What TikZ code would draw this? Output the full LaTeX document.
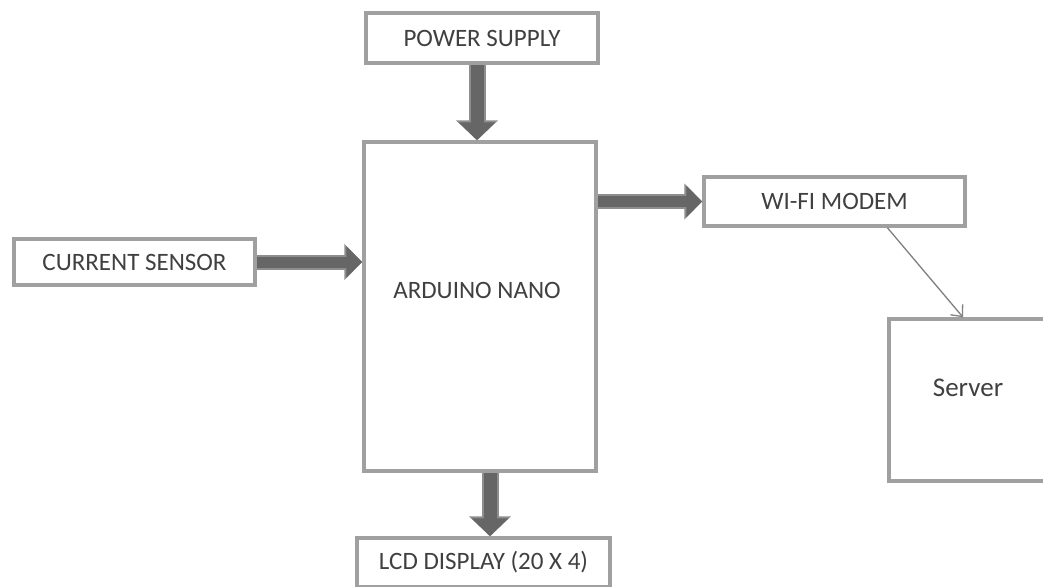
\documentclass[tikz,border=0pt]{standalone}
\usepackage{fontspec}
\setmainfont{Carlito}
\usetikzlibrary{arrows.meta,calc}
\definecolor{boxgray}{HTML}{A0A0A0}
\definecolor{txtgray}{HTML}{404040}
\definecolor{arrdark}{HTML}{666666}
\definecolor{arrlight}{HTML}{8E8E8E}
\definecolor{thingray}{HTML}{808080}
\begin{document}
\begin{tikzpicture}[x=1pt,y=-1pt,
  box/.style={draw=boxgray, line width=3.5pt, fill=white, inner sep=0pt,
    text=txtgray, font=\fontsize{25}{30}\selectfont},
  lbl/.style={text=txtgray, font=\fontsize{25}{30}\selectfont, inner sep=0pt},
  blockv/.style={draw=arrdark, line width=13pt, -{Triangle[length=18pt,width=36pt]},
    preaction={draw=arrlight, line width=17pt, -{Triangle[length=20pt,width=41pt]}}},
  blockh/.style={draw=arrdark, line width=11pt, -{Triangle[length=16pt,width=31pt]},
    preaction={draw=arrlight, line width=15pt, -{Triangle[length=18pt,width=35pt]}}},
  thinarrow/.style={draw=thingray, line width=1.3pt, -{Straight Barb[length=9pt,width=16pt]}}
]
\fill[white] (0,0) rectangle (1043,586);
\useasboundingbox (0,0) rectangle (1043,586);

\node[box, minimum width=232pt, minimum height=50pt] (ps) at (482,38) {POWER SUPPLY};
\node[box, minimum width=232pt, minimum height=329pt] (ard) at (480,306.5) {};
\node[lbl] (ardt) at (477,290) {ARDUINO NANO};
\node[box, minimum width=261pt, minimum height=49pt] (wifi) at (834.5,201.5) {WI-FI MODEM};
\node[box, minimum width=241pt, minimum height=46pt] (cs) at (134.5,262) {CURRENT SENSOR};
\node[box, minimum width=158pt, minimum height=162pt] (srv) at (968,400) {};
\node[lbl, font=\fontsize{27}{32}\selectfont] (srvt) at (968,388) {Server};
\node[box, minimum width=253pt, minimum height=49pt] (lcd) at (483.5,562.5) {LCD DISPLAY (20 X 4)};

\draw[blockv] ([xshift=-5pt]ps.south) -- ([xshift=-3pt]ard.north);
\draw[blockv] ([xshift=10pt]ard.south) -- ([xshift=6.5pt]lcd.north);
\draw[blockh] (ard.east |- wifi.west) -- (wifi.west);
\draw[blockh] (cs.east) -- (cs.east -| ard.west);
\coordinate (wout) at ($(wifi.south west)!0.70!(wifi.south east)$);
\draw[thinarrow] (wout) -- ([xshift=-5pt]srv.north);
\end{tikzpicture}
\end{document}
